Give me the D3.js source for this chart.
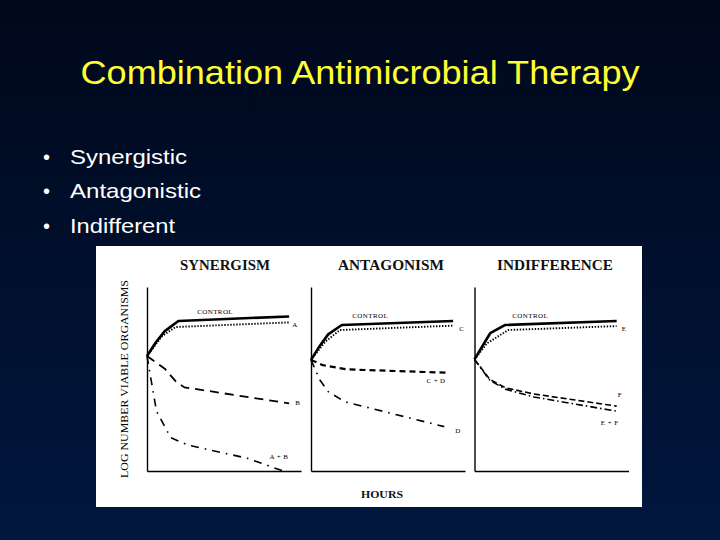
<!DOCTYPE html>
<html>
<head>
<meta charset="utf-8">
<script src="https://cdn.jsdelivr.net/npm/d3@7"></script>
<style>
html,body{margin:0;padding:0;background:#000a1e;}
svg{display:block;}
</style>
</head>
<body>
<div id="chart"></div>
<script>
// ---- Data (hours, log10 viable organisms) ----
const slideTitle = "Combination Antimicrobial Therapy";
const bullets = ["Synergistic", "Antagonistic", "Indifferent"];
const panelTitles = ["SYNERGISM", "ANTAGONISM", "INDIFFERENCE"];
const yAxisLabel = "LOG NUMBER VIABLE ORGANISMS";
const xAxisLabel = "HOURS";

// Synergism
const synControl = [[0,7.0],[1.5,7.6],[3,8.08],[5.3,8.52],[24,8.72]];
const synA       = [[0,7.0],[2.5,7.85],[4.8,8.26],[24,8.46]];
const synB       = [[0,7.0],[3,6.45],[5,5.85],[6.3,5.64],[24,4.94]];
const synAB      = [[0,7.0],[1.6,4.6],[4,3.45],[7,3.12],[17,2.55],[23.3,1.97]];
// Antagonism
const antControl = [[0,6.83],[1.5,7.45],[2.9,7.94],[5.2,8.35],[24,8.52]];
const antC       = [[0,6.83],[2.4,7.62],[4.9,8.13],[24,8.32]];
const antCD      = [[0,6.83],[2,6.6],[6,6.42],[23.3,6.27]];
const antD       = [[0,6.83],[1.5,5.96],[2.9,5.45],[5.7,5.01],[22.5,3.93]];
// Indifference
const indControl = [[0,6.85],[1.5,7.5],[2.65,7.99],[5.2,8.35],[24,8.52]];
const indE       = [[0,6.85],[2.1,7.55],[5.7,8.13],[24,8.3]];
const indF       = [[0,6.85],[2.6,5.98],[5.2,5.62],[10,5.35],[24,4.82]];
const indEF      = [[0,6.85],[2.6,5.94],[5.2,5.56],[10,5.22],[24,4.6]];

const hourDomain = [0, 26];
const logDomain = [2, 10];

const panelSeries = [
  [
    {name:"CONTROL", data:synControl, style:"control"},
    {name:"A", data:synA, style:"dot"},
    {name:"B", data:synB, style:"longdash"},
    {name:"A + B", data:synAB, style:"dashdot"}
  ],
  [
    {name:"CONTROL", data:antControl, style:"control"},
    {name:"C", data:antC, style:"dot"},
    {name:"C + D", data:antCD, style:"shortdash"},
    {name:"D", data:antD, style:"dashdot"}
  ],
  [
    {name:"CONTROL", data:indControl, style:"control"},
    {name:"E", data:indE, style:"dot"},
    {name:"F", data:indF, style:"dash"},
    {name:"E + F", data:indEF, style:"dashdot2"}
  ]
];

// ---- Styles / layout ----
const W = 720, H = 540;
const styles = {
  control:  {w:2.6, dash:null},
  dot:      {w:1.9, dash:"1.4,1.6"},
  longdash: {w:1.8, dash:"9,6"},
  dashdot:  {w:1.6, dash:"8,6,1.6,6"},
  shortdash:{w:2.2, dash:"6,4"},
  dash:     {w:1.6, dash:"6,3"},
  dashdot2: {w:1.6, dash:"7,3,1.5,3"}
};
const labelOffsets = [
  {"A":[3,5,"start"], "B":[6,2,"start"], "A + B":[-6,-13,"middle"]},
  {"C":[6,5,"start"], "C + D":[-13,10.5,"middle"], "D":[11,6,"start"]},
  {"E":[5,5,"start"], "F":[1,-9,"start"], "E + F":[-7,14,"middle"]}
];
const controlLabelHour = [11.5, 10, 9.4];

const panelX0 = [147, 311, 474.5];
const panelW = 154;
const axisTop = 287, axisBottom = 471;

const svg = d3.select("#chart").append("svg").attr("width", W).attr("height", H);
const defs = svg.append("defs");
const grad = defs.append("linearGradient").attr("id","bg").attr("x1",0).attr("y1",0).attr("x2",0).attr("y2",1);
grad.append("stop").attr("offset","0%").attr("stop-color","#00081b");
grad.append("stop").attr("offset","100%").attr("stop-color","#01173f");
svg.append("rect").attr("width",W).attr("height",H).attr("fill","url(#bg)");

const sans = "'Liberation Sans', Arial, sans-serif";
// Title
svg.append("text").attr("x",360).attr("y",84).attr("text-anchor","middle")
  .attr("font-family",sans).attr("font-size",34)
  .attr("textLength",559).attr("lengthAdjust","spacingAndGlyphs")
  .attr("fill","#ffff33").text(slideTitle);

// Bullets
const bulletY = [164, 198, 232.5];
const bulletLen = [117, 131, 105];
bullets.forEach((b,i)=>{
  svg.append("text").attr("x",43).attr("y",bulletY[i]).attr("fill","#fff")
    .attr("font-family",sans).attr("font-size",20).text("•");
  svg.append("text").attr("x",70).attr("y",bulletY[i]).attr("fill","#fff")
    .attr("font-family",sans).attr("font-size",21)
    .attr("textLength",bulletLen[i]).attr("lengthAdjust","spacingAndGlyphs").text(b);
});

// White figure panel
svg.append("rect").attr("x",96).attr("y",246).attr("width",546).attr("height",261).attr("fill","#fff");

const serif = "'Liberation Serif', 'Times New Roman', serif";

svg.append("text").attr("transform","translate(128,379) rotate(-90)")
  .attr("text-anchor","middle").attr("font-family",serif).attr("font-size",10)
  .attr("textLength",198).attr("lengthAdjust","spacingAndGlyphs")
  .attr("fill","#000").text(yAxisLabel);

svg.append("text").attr("x",382).attr("y",498).attr("text-anchor","middle")
  .attr("font-family",serif).attr("font-weight","bold").attr("font-size",10.5)
  .attr("textLength",42).attr("lengthAdjust","spacingAndGlyphs")
  .attr("fill","#111").text(xAxisLabel);

const titleCx = [225, 391, 555];
const titleLen = [90, 106, 116];

panelTitles.forEach((t,p)=>{
  const x = d3.scaleLinear().domain(hourDomain).range([panelX0[p], panelX0[p]+panelW]);
  const y = d3.scaleLinear().domain(logDomain).range([axisBottom, axisTop]);
  const g = svg.append("g");

  g.append("text").attr("x",titleCx[p]).attr("y",270).attr("text-anchor","middle")
    .attr("font-family",serif).attr("font-weight","bold").attr("font-size",14)
    .attr("textLength",titleLen[p]).attr("lengthAdjust","spacingAndGlyphs")
    .attr("fill","#111").text(t);

  const yAxis = d3.axisLeft(y).tickValues([]).tickSizeOuter(0);
  const xAxis = d3.axisBottom(x).tickValues([]).tickSizeOuter(0);
  g.append("g").attr("transform",`translate(${panelX0[p]},0)`).call(yAxis)
    .select(".domain").attr("stroke","#000").attr("stroke-width",1.4);
  g.append("g").attr("transform",`translate(0,${axisBottom})`).call(xAxis)
    .select(".domain").attr("stroke","#000").attr("stroke-width",1.4);

  const line = d3.line().x(d=>x(d[0])).y(d=>y(d[1])).curve(d3.curveLinear);

  panelSeries[p].forEach(s=>{
    const st = styles[s.style];
    g.append("path").datum(s.data).attr("d",line).attr("fill","none")
      .attr("stroke","#000").attr("stroke-width",st.w)
      .attr("stroke-dasharray",st.dash).attr("stroke-linecap","butt")
      .attr("stroke-linejoin","round");
    const end = s.data[s.data.length-1];
    if (s.name === "CONTROL") {
      const h = controlLabelHour[p];
      const yv = d3.scaleLinear().domain(s.data.map(d=>d[0])).range(s.data.map(d=>d[1]))(h);
      g.append("text").attr("x",x(h)).attr("y",y(yv)-6).attr("text-anchor","middle")
        .attr("font-family",serif).attr("font-size",7).attr("letter-spacing",0.4)
        .attr("fill","#000").text(s.name);
    } else {
      const o = labelOffsets[p][s.name];
      g.append("text").attr("x",x(end[0])+o[0]).attr("y",y(end[1])+o[1])
        .attr("text-anchor",o[2]).attr("font-family",serif).attr("font-size",7)
        .attr("letter-spacing",0.4).attr("fill","#000").text(s.name);
    }
  });
});
</script>
</body>
</html>
